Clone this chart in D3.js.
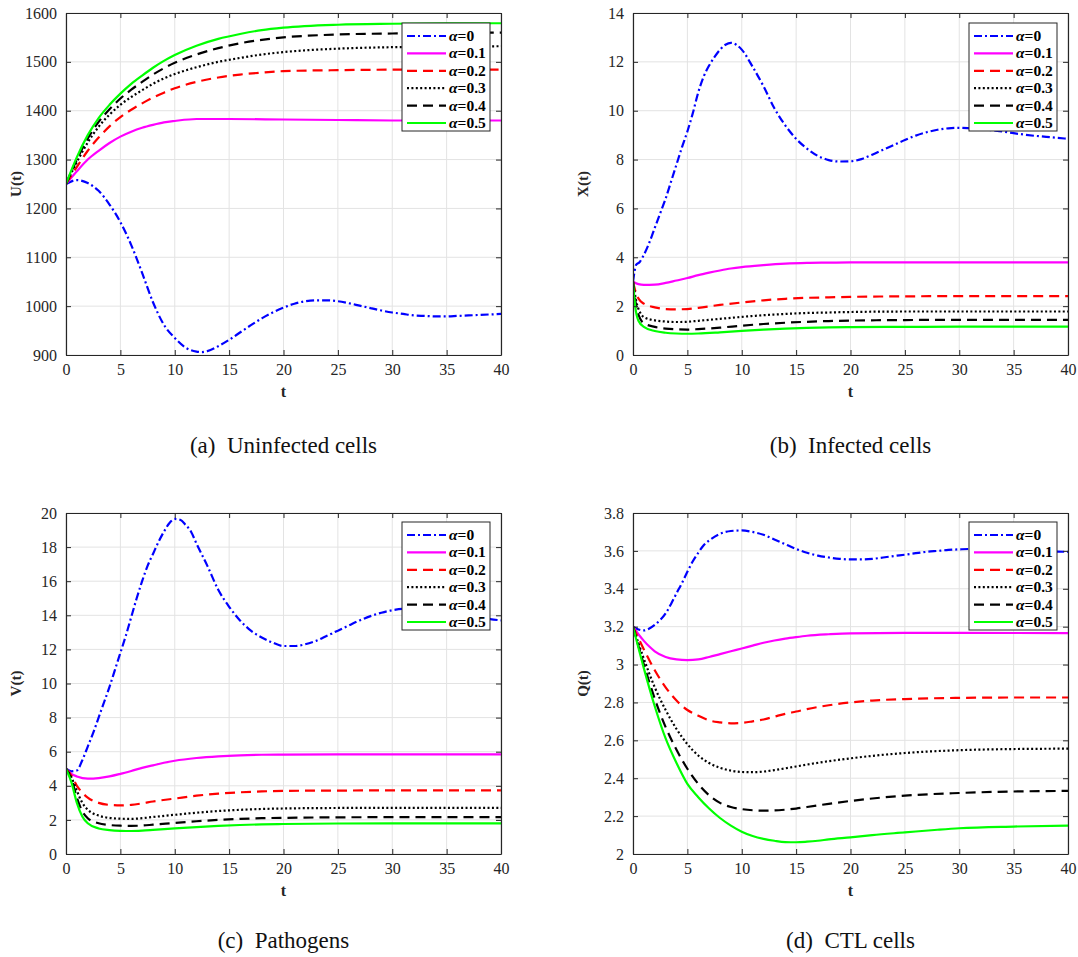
<!DOCTYPE html>
<html>
<head>
<meta charset="utf-8">
<script src="https://cdn.jsdelivr.net/npm/d3@7"></script>
<style>
  html, body { margin: 0; padding: 0; background: #fff; }
  svg { display: block; }
</style>
</head>
<body>
<svg id="chart" width="1078" height="957"></svg>
<script>
// ---- Data: [t, value] samples for each fractional order alpha ----
const alphaLabels = ["0", "0.1", "0.2", "0.3", "0.4", "0.5"];
const xTicks = [0, 5, 10, 15, 20, 25, 30, 35, 40];

// (a) Uninfected cells U(t)
const uA0 = [[0,1250],[1,1258],[2,1252],[3,1236],[4,1208],[5,1172],[6,1125],[7,1068],[8,1008],[9,962],[10,935],[11,915],[12,907],[12.5,906],[13,908],[14,918],[15,931],[16,946],[17,961],[18,975],[19,987],[20,997],[21,1005],[22,1010],[23,1012],[24,1012],[25,1010],[26,1006],[27,1001],[28,996],[29,991],[30,987],[31,984],[32,981],[33,980],[34,979],[35,979],[36,980],[37,981],[38,982],[39,983],[40,984]];
const uA1 = [[0,1250],[1,1276],[2,1300],[3,1318],[4,1334],[5,1347],[6,1357],[7,1365],[8,1371],[9,1376],[10,1379],[12,1383],[15,1383],[20,1382],[25,1381],[30,1380],[40,1380]];
const uA2 = [[0,1250],[1,1285],[2,1318],[3,1345],[4,1368],[5,1387],[6,1402],[7,1415],[8,1427],[9,1437],[10,1446],[12,1459],[14,1468],[16,1474],[18,1478],[20,1481],[25,1483],[30,1484],[40,1484]];
const uA3 = [[0,1250],[1,1295],[2,1335],[3,1367],[4,1392],[5,1412],[6,1428],[7,1442],[8,1455],[9,1466],[10,1475],[12,1489],[14,1500],[16,1508],[18,1515],[20,1520],[25,1527],[30,1530],[35,1531],[40,1532]];
const uA4 = [[0,1250],[1,1300],[2,1343],[3,1377],[4,1403],[5,1425],[6,1443],[7,1459],[8,1474],[9,1487],[10,1498],[12,1515],[14,1528],[16,1538],[18,1545],[20,1550],[25,1556],[30,1558],[35,1559],[40,1560]];
const uA5 = [[0,1250],[1,1305],[2,1350],[3,1385],[4,1412],[5,1435],[6,1455],[7,1472],[8,1488],[9,1502],[10,1514],[12,1533],[14,1547],[16,1557],[18,1565],[20,1570],[25,1576],[30,1578],[35,1579],[40,1579]];

// (b) Infected cells X(t)
const xA0 = [[0,3.0],[0.3,3.7],[0.6,3.8],[1,4.1],[1.5,4.6],[2,5.2],[2.5,5.8],[3,6.4],[3.5,7.1],[4,7.8],[4.5,8.5],[5,9.15],[5.5,9.9],[6,10.75],[6.5,11.4],[7,11.85],[7.5,12.2],[8,12.5],[8.5,12.7],[9,12.78],[9.5,12.7],[10,12.5],[11,11.8],[12,11.0],[13,10.1],[14,9.4],[15,8.85],[16,8.45],[17,8.15],[18,7.98],[19,7.92],[20,7.93],[21,8.02],[22,8.2],[23,8.4],[24,8.6],[25,8.8],[26,8.98],[27,9.12],[28,9.22],[29,9.28],[30,9.3],[31,9.28],[32,9.25],[33,9.2],[34,9.15],[35,9.08],[36,9.02],[37,8.97],[38,8.93],[39,8.89],[40,8.85]];
const xA1 = [[0,3.0],[0.5,2.9],[1,2.87],[2,2.88],[3,2.95],[4,3.05],[5,3.15],[6,3.27],[7,3.37],[8,3.46],[9,3.54],[10,3.6],[12,3.68],[14,3.74],[16,3.77],[18,3.78],[20,3.79],[25,3.79],[30,3.79],[40,3.79]];
const xA2 = [[0,3.0],[0.3,2.5],[0.7,2.2],[1,2.1],[2,1.95],[3,1.88],[4,1.87],[5,1.88],[6,1.93],[8,2.05],[10,2.15],[12,2.24],[14,2.3],[16,2.34],[18,2.36],[20,2.38],[25,2.4],[30,2.41],[40,2.41]];
const xA3 = [[0,3.0],[0.3,2.2],[0.7,1.7],[1,1.55],[2,1.42],[3,1.37],[4,1.35],[5,1.36],[6,1.4],[8,1.48],[10,1.56],[12,1.63],[14,1.68],[16,1.72],[18,1.74],[20,1.76],[25,1.78],[30,1.78],[40,1.78]];
const xA4 = [[0,3.0],[0.3,2.0],[0.7,1.45],[1,1.3],[2,1.15],[3,1.08],[4,1.05],[5,1.04],[6,1.06],[8,1.12],[10,1.2],[12,1.27],[14,1.32],[16,1.36],[18,1.39],[20,1.41],[25,1.43],[30,1.44],[40,1.44]];
const xA5 = [[0,3.0],[0.2,2.0],[0.5,1.4],[1,1.15],[2,0.98],[3,0.91],[4,0.88],[5,0.87],[6,0.88],[8,0.93],[10,0.99],[12,1.04],[14,1.08],[16,1.11],[18,1.13],[20,1.14],[25,1.15],[30,1.16],[40,1.16]];

// (c) Pathogens V(t)
const vA0 = [[0,5.0],[0.5,4.85],[1,4.9],[1.5,5.5],[2,6.3],[2.5,7.1],[3,8.0],[3.5,8.9],[4,9.8],[4.5,10.8],[5,11.8],[5.5,12.8],[6,13.9],[6.5,15.0],[7,16.0],[7.5,16.9],[8,17.6],[8.5,18.3],[9,18.9],[9.5,19.4],[10,19.65],[10.5,19.6],[11,19.3],[11.5,18.9],[12,18.2],[13,16.9],[14,15.5],[15,14.5],[16,13.7],[17,13.1],[18,12.7],[19,12.4],[20,12.2],[21,12.2],[22,12.3],[23,12.5],[24,12.8],[25,13.1],[26,13.4],[27,13.7],[28,13.95],[29,14.15],[30,14.3],[31,14.38],[32,14.4],[33,14.38],[34,14.3],[35,14.2],[36,14.1],[37,13.98],[38,13.88],[39,13.78],[40,13.7]];
const vA1 = [[0,5.0],[0.5,4.7],[1,4.55],[2,4.42],[3,4.45],[4,4.55],[5,4.7],[6,4.87],[7,5.05],[8,5.2],[9,5.35],[10,5.47],[12,5.63],[14,5.73],[16,5.79],[18,5.82],[20,5.83],[25,5.84],[30,5.84],[40,5.84]];
const vA2 = [[0,5.0],[0.5,4.6],[1,4.0],[1.5,3.6],[2,3.3],[3,3.0],[4,2.88],[5,2.85],[6,2.88],[7,2.97],[8,3.08],[10,3.25],[12,3.42],[14,3.54],[16,3.62],[18,3.67],[20,3.7],[25,3.72],[30,3.73],[40,3.73]];
const vA3 = [[0,5.0],[0.5,4.5],[1,3.7],[1.5,3.0],[2,2.6],[3,2.25],[4,2.12],[5,2.07],[6,2.06],[7,2.1],[8,2.17],[10,2.3],[12,2.42],[14,2.52],[16,2.59],[18,2.64],[20,2.67],[25,2.7],[30,2.71],[40,2.71]];
const vA4 = [[0,5.0],[0.5,4.4],[1,3.3],[1.5,2.5],[2,2.1],[3,1.8],[4,1.7],[5,1.66],[6,1.65],[7,1.67],[8,1.72],[10,1.82],[12,1.92],[14,2.0],[16,2.06],[18,2.1],[20,2.12],[25,2.15],[30,2.16],[40,2.16]];
const vA5 = [[0,5.0],[0.5,4.2],[1,3.0],[1.5,2.2],[2,1.8],[3,1.5],[4,1.4],[5,1.36],[6,1.35],[7,1.37],[8,1.41],[10,1.5],[12,1.58],[14,1.65],[16,1.7],[18,1.74],[20,1.76],[25,1.79],[30,1.8],[40,1.8]];

// (d) CTL cells Q(t)
const qA0 = [[0,3.2],[0.5,3.185],[1,3.18],[1.5,3.19],[2,3.21],[2.5,3.235],[3,3.27],[3.5,3.32],[4,3.376],[4.5,3.43],[5,3.49],[5.5,3.545],[6,3.59],[6.5,3.63],[7,3.655],[8,3.69],[9,3.705],[10,3.708],[11,3.7],[12,3.685],[13,3.66],[14,3.635],[15,3.61],[16,3.59],[17,3.575],[18,3.565],[19,3.558],[20,3.555],[21,3.555],[22,3.558],[23,3.565],[24,3.573],[25,3.58],[26,3.588],[27,3.595],[28,3.6],[29,3.605],[30,3.608],[31,3.61],[32,3.61],[33,3.609],[34,3.607],[35,3.604],[36,3.601],[37,3.599],[38,3.597],[39,3.596],[40,3.595]];
const qA1 = [[0,3.2],[0.5,3.16],[1,3.125],[1.5,3.095],[2,3.07],[3,3.04],[4,3.027],[5,3.023],[6,3.027],[7,3.04],[8,3.055],[9,3.07],[10,3.085],[11,3.1],[12,3.115],[13,3.127],[14,3.137],[15,3.145],[16,3.152],[18,3.16],[20,3.165],[25,3.167],[30,3.167],[40,3.166]];
const qA2 = [[0,3.2],[1,3.08],[2,2.97],[3,2.88],[4,2.81],[5,2.76],[6,2.73],[7,2.705],[8,2.695],[9,2.69],[10,2.692],[11,2.7],[12,2.71],[13,2.725],[14,2.74],[15,2.752],[16,2.765],[18,2.785],[20,2.8],[22,2.81],[25,2.818],[30,2.824],[35,2.826],[40,2.826]];
const qA3 = [[0,3.2],[1,3.03],[2,2.88],[3,2.76],[4,2.66],[5,2.58],[6,2.52],[7,2.48],[8,2.455],[9,2.44],[10,2.433],[11,2.432],[12,2.435],[13,2.443],[14,2.452],[15,2.462],[16,2.472],[18,2.49],[20,2.505],[22,2.518],[25,2.533],[30,2.548],[35,2.554],[40,2.556]];
const qA4 = [[0,3.2],[1,3.0],[2,2.82],[3,2.67],[4,2.55],[5,2.45],[6,2.37],[7,2.31],[8,2.27],[9,2.248],[10,2.237],[11,2.231],[12,2.229],[13,2.23],[14,2.234],[15,2.24],[16,2.248],[18,2.265],[20,2.28],[22,2.293],[25,2.308],[30,2.322],[35,2.33],[40,2.333]];
const qA5 = [[0,3.2],[1,2.98],[2,2.78],[3,2.61],[4,2.48],[5,2.37],[6,2.3],[7,2.24],[8,2.19],[9,2.15],[10,2.118],[11,2.095],[12,2.08],[13,2.07],[14,2.063],[15,2.062],[16,2.065],[17,2.07],[18,2.077],[20,2.088],[22,2.1],[25,2.114],[28,2.128],[30,2.136],[35,2.145],[40,2.15]];

const uTicks = [900, 1000, 1100, 1200, 1300, 1400, 1500, 1600];
const xCellTicks = [0, 2, 4, 6, 8, 10, 12, 14];
const vTicks = [0, 2, 4, 6, 8, 10, 12, 14, 16, 18, 20];
const qTicks = [2, 2.2, 2.4, 2.6, 2.8, 3, 3.2, 3.4, 3.6, 3.8];

// ---- Line styles per alpha ----
const styles = [
  { color: "#0000ff", dash: "8,3,2,3" },
  { color: "#ff00ff", dash: null },
  { color: "#ff0000", dash: "10,6" },
  { color: "#000000", dash: "2,2.4" },
  { color: "#000000", dash: "10,6" },
  { color: "#00ff00", dash: null }
];

const panels = [
  { series: [uA0, uA1, uA2, uA3, uA4, uA5], yTicks: uTicks, yLabel: "U(t)", caption: "(a)\u2002Uninfected cells",
    box: { x0: 66, x1: 501, y0: 13, y1: 355 }, legend: { x: 402, y: 23 }, capY: 453 },
  { series: [xA0, xA1, xA2, xA3, xA4, xA5], yTicks: xCellTicks, yLabel: "X(t)", caption: "(b)\u2002Infected cells",
    box: { x0: 633, x1: 1068, y0: 13, y1: 355 }, legend: { x: 969, y: 23 }, capY: 453 },
  { series: [vA0, vA1, vA2, vA3, vA4, vA5], yTicks: vTicks, yLabel: "V(t)", caption: "(c)\u2002Pathogens",
    box: { x0: 66, x1: 501, y0: 513, y1: 854 }, legend: { x: 402, y: 522 }, capY: 948 },
  { series: [qA0, qA1, qA2, qA3, qA4, qA5], yTicks: qTicks, yLabel: "Q(t)", caption: "(d)\u2002CTL cells",
    box: { x0: 633, x1: 1068, y0: 513, y1: 854 }, legend: { x: 969, y: 522 }, capY: 948 }
];

const svg = d3.select("#chart");
const tickFont = "'Liberation Serif', 'Times New Roman', serif";
const axisColor = "#262626";

panels.forEach((p, pi) => {
  const b = p.box;
  const x = d3.scaleLinear().domain([0, 40]).range([b.x0, b.x1]);
  const yExt = d3.extent(p.yTicks);
  const y = d3.scaleLinear().domain(yExt).range([b.y1, b.y0]);
  const g = svg.append("g");

  // grid
  g.append("g").selectAll("line").data(xTicks).join("line")
    .attr("x1", d => x(d)).attr("x2", d => x(d)).attr("y1", b.y0).attr("y2", b.y1)
    .attr("stroke", "#e3e3e3").attr("stroke-width", 1);
  g.append("g").selectAll("line").data(p.yTicks).join("line")
    .attr("x1", b.x0).attr("x2", b.x1).attr("y1", d => y(d)).attr("y2", d => y(d))
    .attr("stroke", "#e3e3e3").attr("stroke-width", 1);

  // curves
  const clipId = "clip" + pi;
  svg.append("clipPath").attr("id", clipId).append("rect")
    .attr("x", b.x0).attr("y", b.y0 - 2).attr("width", b.x1 - b.x0).attr("height", b.y1 - b.y0 + 4);
  const line = d3.line().x(d => x(d[0])).y(d => y(d[1])).curve(d3.curveMonotoneX);
  const lg = g.append("g").attr("clip-path", `url(#${clipId})`);
  p.series.forEach((s, i) => {
    lg.append("path").attr("d", line(s))
      .attr("fill", "none").attr("stroke", styles[i].color).attr("stroke-width", 2.2)
      .attr("stroke-dasharray", styles[i].dash);
  });

  // axes (box with inward ticks on all sides)
  const xAxisB = d3.axisBottom(x).tickValues(xTicks).tickSizeInner(-5).tickSizeOuter(0).tickPadding(9);
  const xAxisT = d3.axisTop(x).tickValues(xTicks).tickSizeInner(-5).tickSizeOuter(0).tickFormat("");
  const yAxisL = d3.axisLeft(y).tickValues(p.yTicks).tickSizeInner(-5).tickSizeOuter(0).tickPadding(9)
    .tickFormat(d3.format("~g"));
  const yAxisR = d3.axisRight(y).tickValues(p.yTicks).tickSizeInner(-5).tickSizeOuter(0).tickFormat("");
  const axes = [
    g.append("g").attr("transform", `translate(0,${b.y1})`).call(xAxisB),
    g.append("g").attr("transform", `translate(0,${b.y0})`).call(xAxisT),
    g.append("g").attr("transform", `translate(${b.x0},0)`).call(yAxisL),
    g.append("g").attr("transform", `translate(${b.x1},0)`).call(yAxisR)
  ];
  axes.forEach(a => {
    a.select(".domain").attr("stroke", axisColor).attr("stroke-width", 1.2);
    a.selectAll(".tick line").attr("stroke", axisColor).attr("stroke-width", 1);
    a.selectAll(".tick text").attr("fill", axisColor).attr("font-family", tickFont).attr("font-size", 16);
  });

  // axis titles
  g.append("text").attr("x", (b.x0 + b.x1) / 2).attr("y", b.y1 + 42)
    .attr("text-anchor", "middle").attr("font-family", tickFont).attr("font-weight", "bold")
    .attr("font-size", 16).attr("fill", axisColor).text("t");
  g.append("text")
    .attr("transform", `translate(${b.x0 - 45},${(b.y0 + b.y1) / 2}) rotate(-90)`)
    .attr("text-anchor", "middle").attr("font-family", tickFont).attr("font-weight", "bold")
    .attr("font-size", 15).attr("fill", axisColor).text(p.yLabel);

  // legend
  const L = p.legend, rowH = 17.4, lw = 88, lh = 108;
  const leg = g.append("g").attr("transform", `translate(${L.x},${L.y})`);
  leg.append("rect").attr("width", lw).attr("height", lh)
    .attr("fill", "#fff").attr("stroke", "#262626").attr("stroke-width", 1);
  alphaLabels.forEach((a, i) => {
    const yy = 13 + i * rowH;
    leg.append("line").attr("x1", 5).attr("x2", 44).attr("y1", yy).attr("y2", yy)
      .attr("stroke", styles[i].color).attr("stroke-width", 2.2)
      .attr("stroke-dasharray", styles[i].dash);
    const t = leg.append("text").attr("x", 47).attr("y", yy + 5)
      .attr("font-family", tickFont).attr("font-weight", "bold").attr("font-size", 15.5).attr("fill", "#000");
    t.append("tspan").attr("font-style", "italic").text("\u03b1");
    t.append("tspan").text("=" + a);
  });

  // caption
  svg.append("text").attr("x", (b.x0 + b.x1) / 2).attr("y", p.capY)
    .attr("text-anchor", "middle").attr("font-family", tickFont)
    .attr("font-size", 23).attr("fill", "#111").text(p.caption);
});
</script>
</body>
</html>
